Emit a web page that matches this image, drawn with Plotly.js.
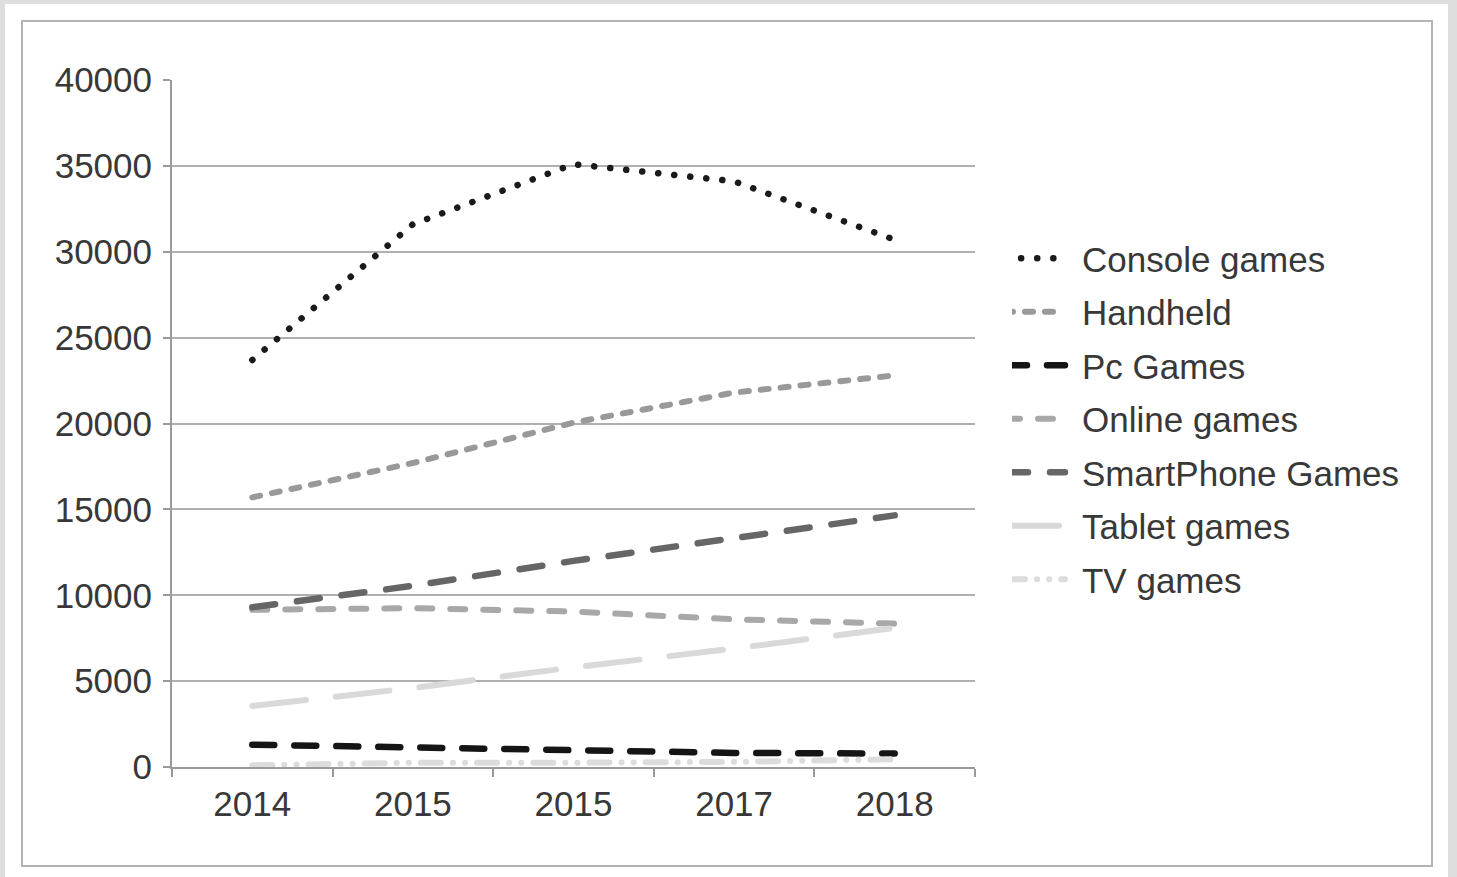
<!DOCTYPE html>
<html>
<head>
<meta charset="utf-8">
<script src="https://cdn.plot.ly/plotly-3.0.1.min.js"></script>
<style>
  html, body { margin: 0; padding: 0; }
  body { width: 1457px; height: 877px; background: #dedede; position: relative; overflow: hidden; }
  #sheet { position: absolute; left: 5px; top: 4px; width: 1443px; height: 873px; background: #ffffff; }
  #frame { position: absolute; left: 21px; top: 20px; width: 1408px; height: 843px; border: 2px solid #b4b4b4; background: #ffffff; }
  #chart { position: absolute; left: 0; top: 0; width: 1408px; height: 843px; }
  .scatterlayer path.js-line, .legendlines path.js-line { stroke-linecap: round; }
  .legend .legendlines { transform: translate(-12px, 0px); }
</style>
</head>
<body>
<div id="sheet"></div>
<div id="frame"><div id="chart"></div></div>
<script>
// ---- data ----
const years = ['2014', '2015', '2015', '2017', '2018'];
const consoleGames    = [23700, 31600, 35100, 34100, 30700];
const handheld        = [15700, 17700, 20050, 21800, 22800];
const pcGames         = [1300, 1150, 1000, 820, 780];
const onlineGames     = [9150, 9250, 9050, 8600, 8350];
const smartphoneGames = [9300, 10550, 12000, 13300, 14650];
const tabletGames     = [3550, 4600, 5800, 6900, 8100];
const tvGames         = [100, 250, 250, 300, 450];
const yTicks = [0, 5000, 10000, 15000, 20000, 25000, 30000, 35000, 40000];

const xIdx = years.map((_, i) => i);
const boundaries = years.map((_, i) => i - 0.5).concat([years.length - 0.5]);

function tr(name, y, color, dash, width) {
  return {
    type: 'scatter', mode: 'lines', name: name, x: xIdx, y: y,
    legendgroup: name,
    line: { color: color, dash: dash, width: width },
    hoverinfo: 'name+y'
  };
}

const data = [
  tr('Console games', consoleGames, '#1a1a1a', '0.1px,16px', 6.5),
  tr('Handheld', handheld, '#999999', '8px,12px', 6),
  tr('Pc Games', pcGames, '#151515', '22px,20px', 6.5),
  tr('Online games', onlineGames, '#a8a8a8', '15px,18px', 6),
  tr('SmartPhone Games', smartphoneGames, '#666666', '23px,22px', 6.5),
  tr('Tablet games', tabletGames, '#d9d9d9', '54px,30px', 6),
  tr('TV games', tvGames, '#dcdcdc', '20px,12px,0.1px,12px,0.1px,12px', 6)
];

const fontFam = 'Liberation Sans, Arial, sans-serif';

const layout = {
  width: 1408, height: 843,
  margin: { l: 149, r: 456, t: 58, b: 98, pad: 0 },
  paper_bgcolor: '#ffffff', plot_bgcolor: '#ffffff',
  font: { family: fontFam, size: 35, color: '#383838' },
  showlegend: true,
  legend: {
    xref: 'container', yref: 'container',
    x: 0.7024, y: 0.7544, xanchor: 'left', yanchor: 'top',
    traceorder: 'grouped', tracegroupgap: 5,
    font: { family: fontFam, size: 35, color: '#383838' },
    bgcolor: 'rgba(0,0,0,0)', borderwidth: 0, itemwidth: 60
  },
  xaxis: {
    range: [-0.5, years.length - 0.5],
    tickmode: 'array', tickvals: xIdx, ticktext: years,
    ticks: '', showgrid: false, zeroline: false,
    showline: true, linecolor: '#9a9a9a', linewidth: 2,
    ticklabelstandoff: 5,
    tickfont: { family: fontFam, size: 35, color: '#383838' },
    minor: { tickmode: 'array', tickvals: boundaries, ticks: 'outside', ticklen: 8, tickwidth: 2, tickcolor: '#9a9a9a', showgrid: false },
    fixedrange: true
  },
  yaxis: {
    range: [0, 40000],
    tickmode: 'array', tickvals: yTicks, ticktext: yTicks.map(String),
    ticks: 'outside', ticklen: 7, tickwidth: 2, tickcolor: '#9a9a9a',
    showgrid: true, gridcolor: '#b0b0b0', gridwidth: 2,
    zeroline: false, showline: true, linecolor: '#9a9a9a', linewidth: 2,
    ticklabelstandoff: 4,
    tickfont: { family: fontFam, size: 35, color: '#383838' },
    fixedrange: true
  }
};

Plotly.newPlot('chart', data, layout, { displayModeBar: false, staticPlot: true });
</script>
</body>
</html>
